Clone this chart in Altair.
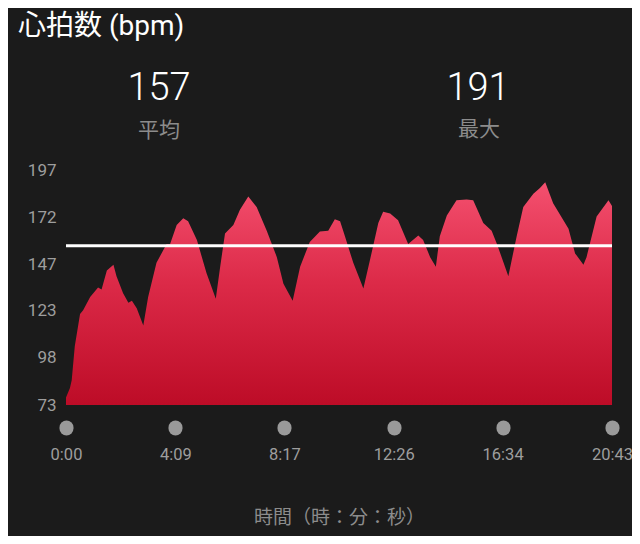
import altair as alt
import pandas as pd

# Heart-rate trace: elapsed seconds and bpm
seconds = [0, 9, 13, 20, 32, 39, 55, 73, 81, 93, 108, 115, 130, 142, 150, 161, 176,
           187, 206, 229, 237, 252, 267, 278, 298, 320, 341, 351, 362, 381, 396, 415,
           434, 457, 480, 495, 516, 533, 555, 578, 597, 612, 624, 635, 654, 677, 692,
           711, 722, 738, 756, 779, 802, 813, 829, 842, 851, 867, 889, 912, 927, 950,
           969, 981, 1007, 1026, 1041, 1064, 1079, 1091, 1109, 1144, 1159, 1178, 1185,
           1208, 1235, 1243]
bpm = [77, 82, 86, 104, 121, 123, 130, 135, 134, 144, 147, 141, 132, 127, 128, 124, 115,
       130, 148, 158, 158, 168, 171.5, 170, 160, 142.5, 129, 146, 163.5, 168, 176, 183,
       177.5, 165, 151, 137, 128, 146, 159, 164.5, 165, 171, 170, 162, 148, 134.5, 149.5,
       169, 175, 174, 170.5, 158, 162.5, 160, 151, 146, 162, 173, 181, 181.5, 181, 169,
       165, 158, 141, 162, 177.5, 184.5, 187.5, 190.5, 179.5, 166, 153, 147, 151, 172.5,
       181, 178]

y_ticks = [73, 98, 123, 147, 172, 197]
x_ticks = [0, 249, 497, 746, 994, 1243]
x_tick_labels = ["0:00", "4:09", "8:17", "12:26", "16:34", "20:43"]

avg_bpm = 157
max_bpm = 191
y_min = 73
y_max = 197

title_text = "心拍数 (bpm)"
avg_label = "平均"
max_label = "最大"
x_title = "時間（時：分：秒）"

FONT = "Roboto, 'Noto Sans CJK JP', sans-serif"
CJK = "'Noto Sans CJK JP', Roboto, sans-serif"

df = pd.DataFrame({"t": seconds, "bpm": bpm})

label_map = "{" + ",".join(f"'{v}':'{l}'" for v, l in zip(x_ticks, x_tick_labels)) + "}"

x_enc = alt.X(
    "t:Q",
    scale=alt.Scale(domain=[0, 1243], nice=False, zero=False),
    axis=alt.Axis(
        values=x_ticks,
        labelExpr=f"{label_map}[datum.value]",
        title=x_title,
        titleFont=CJK,
        titleFontSize=19,
        titleFontWeight="normal",
        titleColor="#8c8c8c",
        titlePadding=46,
        domain=False,
        grid=False,
        ticks=True,
        tickSize=1,
        tickWidth=14,
        tickCap="round",
        tickColor="#9a9a9a",
        offset=22,
        labelPadding=18,
        labelFont=FONT,
        labelFontSize=16.5,
        labelColor="#9e9e9e",
        labelFlush=False,
    ),
)

y_enc = alt.Y(
    "bpm:Q",
    scale=alt.Scale(domain=[y_min, y_max], nice=False, zero=False),
    axis=alt.Axis(
        values=y_ticks,
        title=None,
        domain=False,
        grid=False,
        ticks=False,
        labelPadding=10,
        labelFont=FONT,
        labelFontSize=17,
        labelColor="#9e9e9e",
    ),
)

area = alt.Chart(df).mark_area(
    line=False,
    clip=True,
    color=alt.Gradient(
        gradient="linear",
        stops=[alt.GradientStop(color="#f4506f", offset=0),
               alt.GradientStop(color="#dc2a48", offset=0.45),
               alt.GradientStop(color="#bd0c27", offset=1)],
        x1=1, x2=1, y1=0, y2=1,
    ),
).encode(x=x_enc, y=y_enc, y2=alt.datum(y_min))

avg_rule = alt.Chart(pd.DataFrame({"avg": [avg_bpm]})).mark_rule(
    color="white", strokeWidth=3
).encode(y="avg:Q")

title = alt.Chart(pd.DataFrame({"s": [title_text]})).mark_text(
    align="left", baseline="middle", font=FONT, fontSize=28, color="white"
).encode(text="s:N", x=alt.value(-48), y=alt.value(-143))

avg_num = alt.Chart(pd.DataFrame({"s": [str(avg_bpm)]})).mark_text(
    align="center", baseline="middle", font="Roboto", fontSize=38, fontWeight=300, color="white"
).encode(text="s:N", x=alt.value(93), y=alt.value(-81))

max_num = alt.Chart(pd.DataFrame({"s": [str(max_bpm)]})).mark_text(
    align="center", baseline="middle", font="Roboto", fontSize=38, fontWeight=300, color="white"
).encode(text="s:N", x=alt.value(412), y=alt.value(-81))

avg_lab = alt.Chart(pd.DataFrame({"s": [avg_label]})).mark_text(
    align="center", baseline="middle", font=CJK, fontSize=21, color="#8c8c8c"
).encode(text="s:N", x=alt.value(93), y=alt.value(-39))

max_lab = alt.Chart(pd.DataFrame({"s": [max_label]})).mark_text(
    align="center", baseline="middle", font=CJK, fontSize=21, color="#8c8c8c"
).encode(text="s:N", x=alt.value(413), y=alt.value(-40))

chart = alt.layer(area, avg_rule, title, avg_num, max_num, avg_lab, max_lab).properties(
    width=546,
    height=235,
    autosize=alt.AutoSizeParams(type="none"),
    padding={"left": 58, "top": 162, "right": 20, "bottom": 131},
    background="#1b1b1b",
).configure_view(stroke=None)

chart.save("out.html", embed_options={"renderer": "svg", "actions": False})
